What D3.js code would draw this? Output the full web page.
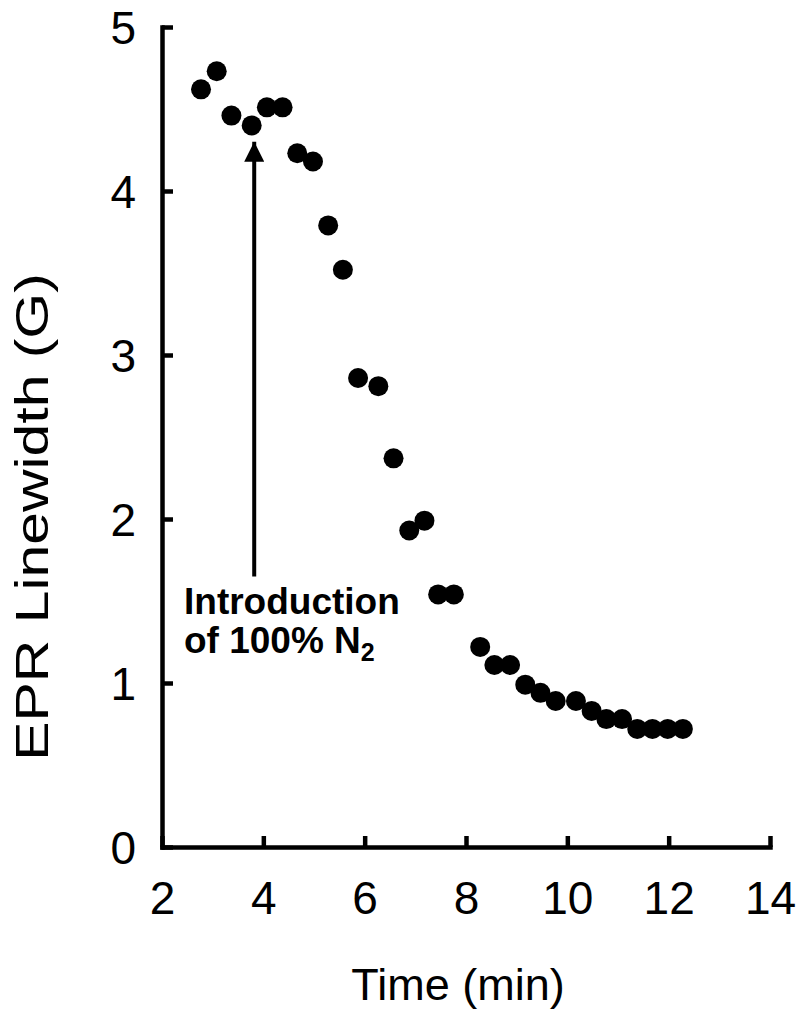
<!DOCTYPE html>
<html>
<head>
<meta charset="utf-8">
<script src="https://cdn.jsdelivr.net/npm/d3@7"></script>
<style>
  body { margin: 0; background: #fff; }
  svg text { font-family: "Liberation Sans", Arial, sans-serif; fill: #000; }
</style>
</head>
<body>
<svg id="chart" width="800" height="1030"></svg>
<script>
// time (min) and EPR linewidth (G)
var time = [2.77, 3.08, 3.37, 3.77, 4.07, 4.38, 4.67, 4.98, 5.28, 5.57,
            5.87, 6.27, 6.57, 6.88, 7.18, 7.45, 7.76, 8.28, 8.56, 8.87,
            9.17, 9.47, 9.77, 10.17, 10.48, 10.77, 11.08, 11.38, 11.68, 11.98, 12.28];
var linewidth = [4.62, 4.73, 4.46, 4.40, 4.51, 4.51, 4.23, 4.18, 3.79, 3.52,
                 2.86, 2.81, 2.37, 1.93, 1.99, 1.54, 1.54, 1.22, 1.11, 1.11,
                 0.99, 0.94, 0.89, 0.89, 0.83, 0.78, 0.78, 0.72, 0.72, 0.72, 0.72];
var xTicks = [2, 4, 6, 8, 10, 12, 14];
var yTicks = [0, 1, 2, 3, 4, 5];
var arrowAt = {x: 3.82, yTip: 4.3, yTail: 1.65};
var noteLines = ["Introduction", "of 100% N"];

var svg = d3.select('#chart');
var x = d3.scaleLinear().domain([2, 14]).range([162, 770]);
var y = d3.scaleLinear().domain([0, 5]).range([847, 27]);

// axes, ticks pointing inward
var gx = svg.append('g').attr('transform', 'translate(0,' + y(0) + ')')
	.call(d3.axisBottom(x).tickValues(xTicks).tickSizeInner(-11).tickSizeOuter(0).tickPadding(0).tickFormat(d3.format('d')));
var gy = svg.append('g').attr('transform', 'translate(' + x(2) + ',0)')
	.call(d3.axisLeft(y).tickValues(yTicks).tickSizeInner(-11).tickSizeOuter(0).tickPadding(0).tickFormat(d3.format('d')));

[gx, gy].forEach(function(g){
	g.select('.domain').attr('stroke', '#000').attr('stroke-width', 4.5).attr('stroke-linecap', 'square');
	g.selectAll('.tick line').attr('stroke', '#000').attr('stroke-width', 4.5);
	g.selectAll('.tick text').attr('font-size', 46).attr('font-family', '"Liberation Sans", Arial, sans-serif');
});
gx.selectAll('.tick text').attr('y', 34).attr('dy', '0.71em');
gy.selectAll('.tick text').attr('x', -26).attr('dy', '0.36em');

// axis titles
svg.append('text')
	.attr('x', (x(2) + x(14)) / 2 - 8)
	.attr('y', 1000)
	.attr('text-anchor', 'middle')
	.attr('font-size', 45)
	.text('Time (min)');
// the y title is drawn stretched along its length in the original
svg.append('text')
	.attr('transform', 'translate(48,' + 517 + ') rotate(-90) scale(1.28,1)')
	.attr('text-anchor', 'middle')
	.attr('font-size', 46)
	.text('EPR Linewidth (G)');

// data points
svg.append('g').selectAll('circle')
	.data(time)
	.join('circle')
	.attr('cx', function(d){ return x(d); })
	.attr('cy', function(d, i){ return y(linewidth[i]); })
	.attr('r', 10)
	.attr('fill', '#000');

// arrow
svg.append('defs').append('marker')
	.attr('id', 'head')
	.attr('viewBox', '0 0 10 10')
	.attr('refX', 10).attr('refY', 5)
	.attr('markerUnits', 'userSpaceOnUse')
	.attr('markerWidth', 22).attr('markerHeight', 20)
	.attr('orient', 'auto')
	.append('path').attr('d', 'M0,0L10,5L0,10Z').attr('fill', '#000');
svg.append('path')
	.attr('d', d3.line()([[x(arrowAt.x), y(arrowAt.yTail)], [x(arrowAt.x), y(arrowAt.yTip)]]))
	.attr('stroke', '#000')
	.attr('stroke-width', 4)
	.attr('fill', 'none')
	.attr('marker-end', 'url(#head)');

// annotation, two separate lines
svg.append('text').attr('font-size', 37).attr('font-weight', 'bold')
	.attr('x', 184).attr('y', 614).text(noteLines[0]);
var l2 = svg.append('text').attr('font-size', 37).attr('font-weight', 'bold')
	.attr('x', 184).attr('y', 653);
l2.append('tspan').text(noteLines[1]);
l2.append('tspan').attr('font-size', 25).attr('dy', 8).text('2');
</script>
</body>
</html>
